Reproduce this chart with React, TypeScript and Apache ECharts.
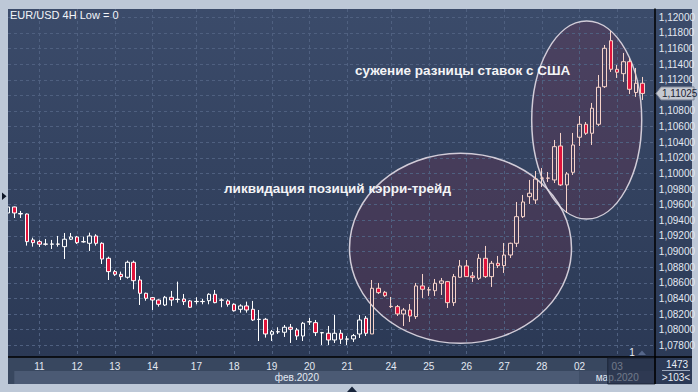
import React, { useEffect, useRef } from 'react';
import * as echarts from 'echarts';

const title = 'EUR/USD 4H Low = 0';
const dayLabels = ['11', '12', '13', '14', '17', '18', '19', '20', '21', '24', '25', '26', '27', '28', '02', '03'];
const dayStarts = [5, 11, 17, 23, 30, 36, 42, 48, 54, 61, 67, 73, 79, 85, 91, 97];
const slotCount = 104;
const monthLabels = ['фев.2020', 'мар.2020'];
const monthStarts = [1, 91];
const priceTicks = [1.078, 1.08, 1.082, 1.084, 1.086, 1.088, 1.09, 1.092, 1.094, 1.096, 1.098, 1.1, 1.102, 1.104, 1.106, 1.108, 1.11, 1.112, 1.114, 1.116, 1.118, 1.12];
const lastPrice = 1.11025;
const noteTexts = ['сужение разницы ставок с США', 'ликвидация позиций кэрри-трейд'];
const footerTexts = ['1473', '>103<'];
const cursorMark = '1';

const opens = [
  1.09494, 1.09571, 1.09488, 1.09481, 1.09149, 1.09127, 1.09097, 1.09094, 1.09097, 1.09063,
  1.09158, 1.09187, 1.09127, 1.09106, 1.09200, 1.09106, 1.08914, 1.08743, 1.08709, 1.08671,
  1.08863, 1.08636, 1.08466, 1.08410, 1.08380, 1.08316, 1.08415, 1.08389, 1.08393, 1.08368,
  1.08359, 1.08362, 1.08371, 1.08453, 1.08380, 1.08368, 1.08325, 1.08261, 1.08304, 1.08261,
  1.08133, 1.08133, 1.07941, 1.07974, 1.07967, 1.08031, 1.07996, 1.07919, 1.08102, 1.08090,
  1.07962, 1.07954, 1.07868, 1.07954, 1.07881, 1.07881, 1.07945, 1.08146, 1.07945, 1.08530,
  1.08479, 1.08298, 1.08295, 1.08201, 1.08252, 1.08167, 1.08560, 1.08511, 1.08499, 1.08594,
  1.08615, 1.08346, 1.08671, 1.08816, 1.08688, 1.08658, 1.08914, 1.08679, 1.08850, 1.08820,
  1.08956, 1.09106, 1.09447, 1.09703, 1.09661, 1.09939, 1.09942, 1.09917, 1.10352, 1.09853,
  1.10015, 1.10464, 1.10630, 1.10515, 1.10630, 1.11111, 1.11700, 1.11334, 1.11278, 1.11431,
  1.11037, 1.11155,
];
const closes = [
  1.09571, 1.09494, 1.09481, 1.09127, 1.09114, 1.09094, 1.09094, 1.09097, 1.09094, 1.09158,
  1.09187, 1.09114, 1.09124, 1.09200, 1.09106, 1.08905, 1.08743, 1.08709, 1.08679, 1.08863,
  1.08627, 1.08466, 1.08402, 1.08380, 1.08325, 1.08415, 1.08380, 1.08386, 1.08359, 1.08287,
  1.08362, 1.08359, 1.08453, 1.08346, 1.08377, 1.08325, 1.08243, 1.08304, 1.08252, 1.08124,
  1.08130, 1.07945, 1.07974, 1.07971, 1.08031, 1.08005, 1.07919, 1.08082, 1.08099, 1.07962,
  1.07959, 1.07868, 1.07954, 1.07877, 1.07878, 1.07923, 1.08124, 1.07954, 1.08530, 1.08474,
  1.08435, 1.08295, 1.08201, 1.08252, 1.08175, 1.08560, 1.08517, 1.08508, 1.08594, 1.08624,
  1.08346, 1.08679, 1.08816, 1.08679, 1.08666, 1.08914, 1.08679, 1.08850, 1.08820, 1.08956,
  1.09106, 1.09447, 1.09635, 1.09747, 1.09930, 1.09942, 1.09939, 1.10343, 1.09853, 1.09994,
  1.10365, 1.10630, 1.10515, 1.10835, 1.11104, 1.11603, 1.11334, 1.11296, 1.11431, 1.11078,
  1.11155, 1.11025,
];
const lows = [
  1.09469, 1.09430, 1.09430, 1.09076, 1.09063, 1.09059, 1.09076, 1.09033, 1.09063, 1.08905,
  1.09149, 1.09097, 1.09114, 1.09008, 1.09076, 1.08841, 1.08636, 1.08688, 1.08636, 1.08653,
  1.08517, 1.08316, 1.08371, 1.08252, 1.08295, 1.08304, 1.08304, 1.08346, 1.08316, 1.08278,
  1.08325, 1.08325, 1.08325, 1.08338, 1.08287, 1.08295, 1.08231, 1.08218, 1.08218, 1.08111,
  1.07855, 1.07898, 1.07855, 1.07945, 1.07907, 1.07830, 1.07868, 1.07855, 1.08060, 1.07919,
  1.07804, 1.07804, 1.07830, 1.07817, 1.07804, 1.07843, 1.07894, 1.07919, 1.07945, 1.08457,
  1.08419, 1.08278, 1.08175, 1.08047, 1.08099, 1.08137, 1.08406, 1.08432, 1.08432, 1.08444,
  1.08278, 1.08304, 1.08666, 1.08675, 1.08611, 1.08636, 1.08662, 1.08547, 1.08790, 1.08726,
  1.08918, 1.09059, 1.09430, 1.09610, 1.09610, 1.09827, 1.09891, 1.09878, 1.09840, 1.09494,
  1.09981, 1.10352, 1.10493, 1.10365, 1.10608, 1.11095, 1.11300, 1.11223, 1.11172, 1.11018,
  1.10980, 1.10941,
];
const highs = [
  1.09597, 1.09575, 1.09520, 1.09488, 1.09178, 1.09149, 1.09161, 1.09149, 1.09200, 1.09238,
  1.09238, 1.09200, 1.09191, 1.09242, 1.09222, 1.09119, 1.08935, 1.08764, 1.08743, 1.08884,
  1.08884, 1.08688, 1.08474, 1.08419, 1.08389, 1.08432, 1.08496, 1.08615, 1.08457, 1.08380,
  1.08415, 1.08393, 1.08466, 1.08508, 1.08402, 1.08389, 1.08338, 1.08325, 1.08359, 1.08368,
  1.08252, 1.08150, 1.07996, 1.08031, 1.08060, 1.08073, 1.08022, 1.08099, 1.08150, 1.08124,
  1.07971, 1.08047, 1.08188, 1.07996, 1.07919, 1.07945, 1.08188, 1.08175, 1.08636, 1.08598,
  1.08496, 1.08419, 1.08316, 1.08278, 1.08329, 1.08598, 1.08713, 1.08547, 1.08649, 1.08662,
  1.08624, 1.08713, 1.08892, 1.08892, 1.08739, 1.08969, 1.09072, 1.08880, 1.08944, 1.09110,
  1.09114, 1.09635, 1.09725, 1.09917, 1.10032, 1.10070, 1.10019, 1.10429, 1.10519, 1.10019,
  1.10519, 1.10736, 1.10659, 1.10903, 1.11261, 1.11645, 1.11825, 1.11389, 1.11543, 1.11479,
  1.11351, 1.11236,
];

// candles from this index on sit inside the highlighted ellipses
const tintFrom = 58;

const FONT = '"Liberation Sans Narrow", "Liberation Sans", Arial, sans-serif';
const FRAME = '#bdc8d7';

// decorative ellipses (pixel geometry of the annotation)
const E1 = { cx: 460.5, cy: 248.3, rx: 111, ry: 95 };
const E2 = { cx: 586.7, cy: 120, rx: 55, ry: 99 };
const ellD = (e: { cx: number; cy: number; rx: number; ry: number }) =>
  `M ${e.cx - e.rx} ${e.cy} A ${e.rx} ${e.ry} 0 1 0 ${e.cx + e.rx} ${e.cy} A ${e.rx} ${e.ry} 0 1 0 ${e.cx - e.rx} ${e.cy} Z `;
echarts.graphic.registerShape('ellipseUnion', echarts.graphic.extendPath(ellD(E1) + ellD(E2), {}));

const fmtPrice = (v: number) => v.toFixed(5).replace('.', ',');

export default function App() {
  const ref = useRef<HTMLDivElement>(null);
  useEffect(() => {
    document.body.style.margin = '0';
    const el = ref.current!;
    const chart = echarts.init(el, undefined, { renderer: 'svg' });

    const categories = Array.from({ length: slotCount }, (_, i) => String(i));
    const tint = '#f6d3c9';
    const candleData = opens.map((o, i) => {
      const item: any = { value: [o, closes[i], lows[i], highs[i]] };
      if (i >= tintFrom) item.itemStyle = { borderColor: tint, borderColor0: tint };
      return item;
    });
    // the label under the last-price marker is covered in the reference
    const labelTicks = priceTicks.filter((v) => Math.abs(v - lastPrice) > 0.0012);

    const gridL = 8, gridT = 9, gridR = 655, gridB = 357;
    const dashColor = '#4f6080';

    chart.setOption({
      animation: false,
      backgroundColor: FRAME,
      grid: { left: gridL, top: gridT, right: 698 - gridR, bottom: 392 - gridB, containLabel: false },
      xAxis: {
        type: 'category',
        data: categories,
        boundaryGap: false,
        z: 3,
        axisLine: { show: true, lineStyle: { color: '#000', width: 1.5 } },
        axisTick: { show: false },
        axisLabel: {
          interval: (i: number) => dayStarts.includes(i),
          formatter: (_v: string, i: number) => {
            const k = dayStarts.indexOf(i);
            return k >= 0 ? dayLabels[k] : '';
          },
          color: '#e3e9f2',
          fontSize: 10,
          fontFamily: FONT,
          margin: 4,
        },
        splitLine: {
          show: true,
          interval: (i: number) => dayStarts.includes(i),
          lineStyle: { color: dashColor, type: [3, 3], width: 1 },
        },
      },
      yAxis: {
        type: 'value',
        position: 'right',
        min: 1.0765,
        max: 1.12106,
        z: 3,
        axisLine: { show: true, lineStyle: { color: '#000', width: 1.5 } },
        axisTick: { show: false, customValues: priceTicks },
        axisLabel: {
          customValues: labelTicks,
          formatter: (v: number) => fmtPrice(v),
          color: '#e3e9f2',
          fontSize: 10,
          fontFamily: FONT,
          margin: 4,
        },
        splitLine: { show: true, lineStyle: { color: dashColor, type: [3, 3], width: 1 } },
      },
      series: [
        {
          type: 'candlestick',
          z: 5,
          clip: true,
          silent: true,
          barWidth: 4,
          data: candleData,
          itemStyle: {
            color: 'rgba(0,0,0,0)',
            color0: '#e0143c',
            borderColor: '#ffffff',
            borderColor0: '#ffffff',
            borderWidth: 1,
          },
        },
      ],
    });

    const xAt = (i: number) => chart.convertToPixel({ xAxisIndex: 0 }, i) as number;
    const yAt = (v: number) => chart.convertToPixel({ yAxisIndex: 0 }, v) as number;
    const slot = xAt(1) - xAt(0);
    const py = yAt(lastPrice);
    const febL = xAt(monthStarts[0]);
    const marL = xAt(monthStarts[1]);
    const boxL = xAt(dayStarts[dayStarts.length - 1]) - 1.5 * slot;
    const panelGrad = new echarts.graphic.LinearGradient(0, 0, 0, 1, [
      { offset: 0, color: '#3b4b6a' },
      { offset: 1, color: '#2b3955' },
    ]);

    const txt = (text: string, x: number, y: number, extra: any = {}) => ({
      type: 'text',
      z: 7,
      silent: true,
      style: {
        text,
        x,
        y,
        fill: '#e8edf4',
        fontSize: 10,
        fontFamily: FONT,
        verticalAlign: 'middle',
        align: 'left',
        ...extra,
      },
    });
    const noteFont = { fill: '#f4f4f6', fontSize: 13.5, fontWeight: 'bold', fontFamily: '"Liberation Sans", Arial, sans-serif' };

    chart.setOption({
      graphic: {
        elements: [
          // panels
          { type: 'rect', z: 1, silent: true, shape: { x: gridL, y: gridT, width: gridR - gridL, height: gridB - gridT }, style: { fill: panelGrad } },
          { type: 'rect', z: 1, silent: true, shape: { x: gridR, y: gridT, width: 692 - gridR, height: 384 - gridT }, style: { fill: panelGrad } },
          { type: 'rect', z: 1, silent: true, shape: { x: gridL, y: gridB, width: gridR - gridL, height: 27 }, style: { fill: '#38475f' } },
          { type: 'rect', z: 1, silent: true, shape: { x: febL, y: 371, width: marL - febL, height: 13 }, style: { fill: '#4b5a74' } },
          { type: 'rect', z: 1, silent: true, shape: { x: marL, y: 371, width: gridR - marL, height: 13 }, style: { fill: '#424f69' } },
          // ellipse highlight fill (union, drawn under the grid lines)
          { type: 'ellipseUnion', z: 2, silent: true, x: 0, y: 0, style: { fill: 'rgba(112,48,76,0.3)', stroke: 'none' } },
          // ellipse outlines
          { type: 'ellipse', z: 4, silent: true, shape: E1, style: { fill: 'none', stroke: 'rgba(226,220,230,0.9)', lineWidth: 1.5 } },
          { type: 'ellipse', z: 4, silent: true, shape: E2, style: { fill: 'none', stroke: 'rgba(226,220,230,0.9)', lineWidth: 1.5 } },
          // month labels
          txt(monthLabels[0], (febL + marL) / 2, 377.5, { align: 'center', fill: '#e3e9f2' }),
          txt(monthLabels[1], (marL + gridR) / 2, 377.5, { align: 'center', fill: '#e3e9f2' }),
          // current-day shade
          { type: 'rect', z: 8, silent: true, shape: { x: boxL, y: 358, width: gridR - boxL, height: 26 }, style: { fill: 'rgba(34,44,66,0.6)', stroke: 'rgba(22,30,48,0.8)', lineWidth: 1 } },
          // separator extensions
          { type: 'line', z: 8, silent: true, shape: { x1: gridR, y1: gridB, x2: 692, y2: gridB }, style: { stroke: '#000', lineWidth: 1.5 } },
          { type: 'line', z: 8, silent: true, shape: { x1: gridR, y1: gridB, x2: gridR, y2: 384 }, style: { stroke: '#000', lineWidth: 1.5 } },
          // frame cover at the left edge
          { type: 'rect', z: 6, silent: true, shape: { x: 0, y: 0, width: gridL, height: 392 }, style: { fill: FRAME } },
          // footer counters
          txt(footerTexts[0], 677, 364, { align: 'center' }),
          { type: 'line', z: 8, silent: true, shape: { x1: 662, y1: 370.5, x2: 690, y2: 370.5 }, style: { stroke: '#9aa6ba', lineWidth: 1 } },
          txt(footerTexts[1], 676, 377.5, { align: 'center' }),
          // price marker
          {
            type: 'polygon', z: 9, silent: true,
            shape: { points: [[656, py], [661, py - 6.5], [694, py - 6.5], [694, py + 6.5], [661, py + 6.5]] },
            style: { fill: '#c5c9d1', stroke: '#7d8597', lineWidth: 1 },
          },
          { ...txt(fmtPrice(lastPrice), 662, py + 0.5, { fill: '#1b2333' }), z: 10 },
          // title and notes
          txt(title, 10, 14.5, { fill: '#f3f5f9', fontSize: 11 }),
          txt(noteTexts[0], 355, 70.5, noteFont),
          txt(noteTexts[1], 224, 188.5, noteFont),
          // cursor marker
          txt(cursorMark, 632, 352.5, { align: 'center' }),
          { type: 'polygon', z: 7, silent: true, shape: { points: [[638, 355], [642, 350.5], [646, 355]] }, style: { fill: '#56678a' } },
          // frame markers
          { type: 'polygon', z: 9, silent: true, shape: { points: [[2, 192.5], [6.5, 196.3], [2, 200]] }, style: { fill: '#0e1626' } },
          { type: 'polygon', z: 9, silent: true, shape: { points: [[347, 392], [352, 386.5], [357, 392]] }, style: { fill: '#17243a' } },
        ],
      },
    });

    return () => chart.dispose();
  }, []);
  return <div ref={ref} style={{ width: 698, height: 392 }} />;
}
